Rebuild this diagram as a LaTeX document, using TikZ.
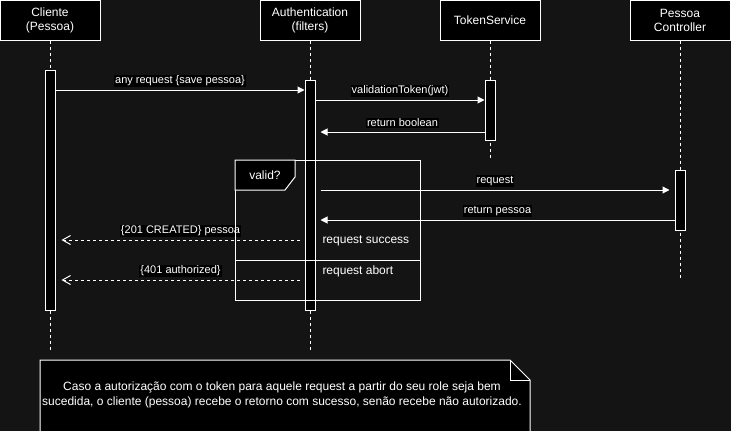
\documentclass[tikz,border=0pt]{standalone}
\usepackage{fontspec}
\setmainfont{Liberation Sans}
\usetikzlibrary{arrows.meta}
\definecolor{bgdark}{HTML}{141414}

\begin{document}
\begin{tikzpicture}[x=1pt,y=-1pt,line width=1pt,
        actor/.style={draw=white,fill=black,text=white,minimum width=100pt,minimum height=40pt,inner sep=0pt,align=center,font=\fontsize{12}{14}\selectfont},
        bar/.style={draw=white,fill=black,minimum width=10pt,inner sep=0pt},
        life/.style={draw=white,dash pattern=on 3pt off 3pt},
        call/.style={draw=white,-{Triangle[length=7pt,width=7pt]}},
        back/.style={draw=white,dash pattern=on 3pt off 3pt,-{Straight Barb[length=8pt,width=9pt]}},
        lbl/.style={fill=black,text=white,inner sep=1pt,font=\fontsize{11}{13}\selectfont},
        txt/.style={text=white,inner sep=0pt,font=\fontsize{12}{14}\selectfont}]
        \useasboundingbox (0,0) rectangle (731,431);
        \fill [bgdark](0,0) rectangle (731,431);

        \node[actor] (cli) at (50,20) {Cliente\\(Pessoa)};
        \node[actor] (auth) at (310,20) {Authentication\\(filters)};
        \node[actor] (tok) at (490,20) {TokenService};
        \node[actor] (pes) at (680,20) {Pessoa\\Controller};

        \coordinate (cliEnd) at (50,350);
        \coordinate (authEnd) at (310,350);
        \coordinate (tokEnd) at (490,160);
        \coordinate (pesEnd) at (680,278);
        \draw[life] (cli.south)--(cliEnd);
        \draw[life] (auth.south)--(authEnd);
        \draw[life] (tok.south)--(tokEnd);
        \draw[life] (pes.south)--(pesEnd);

        \node[bar,minimum height=240pt] (cliBar) at (50,190) {};
        \node[bar,minimum height=230pt] (authBar) at (310,195) {};
        \node[bar,minimum height=60pt] (tokBar) at (490,110) {};
        \node[bar,minimum height=60pt] (pesBar) at (680,200) {};

        \coordinate (m1) at (0,90);
        \coordinate (m2) at (0,100);
        \coordinate (m3) at (0,132);
        \coordinate (m4) at (0,190);
        \coordinate (m5) at (0,220);
        \coordinate (m6) at (0,240);
        \coordinate (m7) at (0,280);

        \draw[call] (cliBar.east|-m1)--(authBar.west|-m1) node[lbl,midway,yshift=9pt]{any request \{save pessoa\}};
        \draw[call] (authBar.east|-m2)--(tokBar.west|-m2) node[lbl,midway,yshift=9pt]{validationToken(jwt)};
        \draw[call] (tokBar.west|-m3)--([xshift=5pt]authBar.east|-m3) node[lbl,midway,yshift=9pt]{return boolean};
        \draw[call] ([xshift=5pt]authBar.east|-m4)--([xshift=-5pt]pesBar.west|-m4) node[lbl,midway,yshift=9pt]{request};
        \draw[call] (pesBar.west|-m5)--([xshift=5pt]authBar.east|-m5) node[lbl,midway,yshift=9pt]{return pessoa};
        \draw[back] ([xshift=-5pt]authBar.west|-m6)--([xshift=6pt]cliBar.east|-m6) node[lbl,midway,yshift=9pt]{\{201 CREATED\} pessoa};
        \draw[back] ([xshift=-5pt]authBar.west|-m7)--([xshift=6pt]cliBar.east|-m7) node[lbl,midway,yshift=9pt]{\{401 authorized\}};

        \draw [white](235,160) rectangle (420,300);
        \draw [white,fill=black](235,160)--(295,160)--(295,177)--(285,190)--(235,190)--cycle;
        \draw [white](235,260)--(420,260);
        \node[txt] (valid) at (265,175) {valid?};
        \node[txt,anchor=west] (ok) at (322,241) {request success};
        \node[txt,anchor=west] (abort) at (322,271) {request abort};

        \draw [white,fill=black](40,360)--(510,360)--(530,380)--(530,445)--(40,445)--cycle;
        \draw [white](510,360)--(510,380)--(530,380);
        \node[txt,align=center,font=\fontsize{12}{14.6}\selectfont] (note) at (282,395) {Caso a autorização com o token para aquele request a partir do seu role seja bem\\sucedida, o cliente (pessoa) recebe o retorno com sucesso, senão recebe não autorizado.};
\end{tikzpicture}
\end{document}
